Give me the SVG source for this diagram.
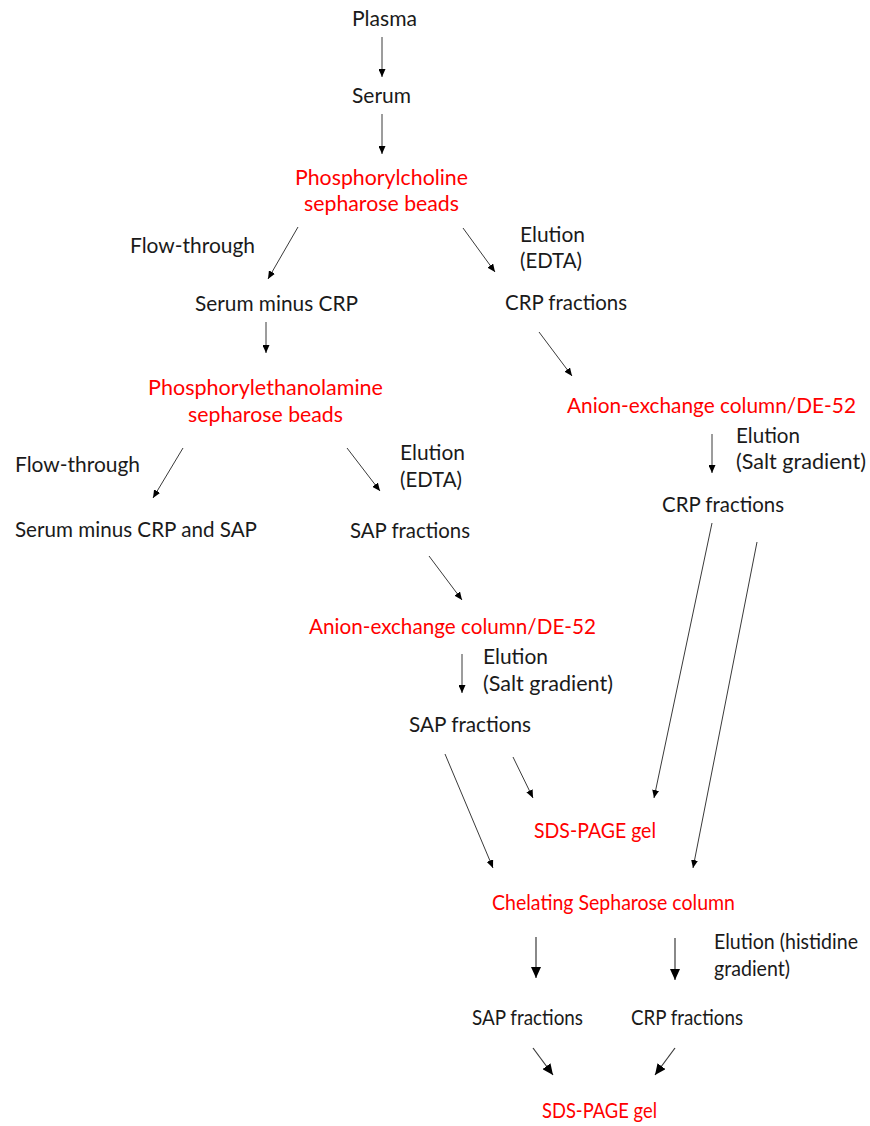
<svg xmlns="http://www.w3.org/2000/svg" width="870" height="1126" viewBox="0 0 870 1126">
<style>
text{font-family:Lato,"Open Sans","Liberation Sans",sans-serif;font-size:21px;fill:#1a1a1a}
.r{fill:#ff0000}
.c line{stroke:#3a3a3a;stroke-width:1}
.c line.s{marker-end:url(#ah)}
.c line.b{marker-end:url(#ahb);stroke-width:1.2}
</style>
<defs>
<marker id="ah" markerUnits="userSpaceOnUse" markerWidth="8" markerHeight="7" refX="8" refY="3.5" orient="auto"><path d="M0,0 L8,3.5 L0,7 z" fill="#000"/></marker>
<marker id="ahb" markerUnits="userSpaceOnUse" markerWidth="11" markerHeight="10" refX="11" refY="5" orient="auto"><path d="M0,0 L11,5 L0,10 z" fill="#000"/></marker>
</defs>
<rect width="870" height="1126" fill="#fff"/>
<g id="plasma"><text x="352" y="26" textLength="65" lengthAdjust="spacingAndGlyphs">Plasma</text></g>
<g id="serum"><text x="352" y="103" textLength="59" lengthAdjust="spacingAndGlyphs">Serum</text></g>
<g id="pc-beads"><text class="r" x="295" y="185" textLength="173" lengthAdjust="spacingAndGlyphs">Phosphorylcholine</text><text class="r" x="304" y="211" textLength="155" lengthAdjust="spacingAndGlyphs">sepharose beads</text></g>
<g id="flow1"><text x="130" y="253" textLength="125" lengthAdjust="spacingAndGlyphs">Flow-through</text></g>
<g id="elution1"><text x="520" y="242" textLength="65" lengthAdjust="spacingAndGlyphs">Elution</text><text x="520" y="268" textLength="62" lengthAdjust="spacingAndGlyphs">(EDTA)</text></g>
<g id="serum-minus-crp"><text x="195" y="311" textLength="163" lengthAdjust="spacingAndGlyphs">Serum minus CRP</text></g>
<g id="crp1"><text x="505" y="310" textLength="122" lengthAdjust="spacingAndGlyphs">CRP fractions</text></g>
<g id="pe-beads"><text class="r" x="148" y="395" textLength="235" lengthAdjust="spacingAndGlyphs">Phosphorylethanolamine</text><text class="r" x="188" y="422" textLength="155" lengthAdjust="spacingAndGlyphs">sepharose beads</text></g>
<g id="anion1"><text class="r" x="567" y="413" textLength="289" lengthAdjust="spacingAndGlyphs">Anion-exchange column/DE-52</text></g>
<g id="flow2"><text x="15" y="472" textLength="125" lengthAdjust="spacingAndGlyphs">Flow-through</text></g>
<g id="elution2"><text x="400" y="460" textLength="65" lengthAdjust="spacingAndGlyphs">Elution</text><text x="400" y="487" textLength="62" lengthAdjust="spacingAndGlyphs">(EDTA)</text></g>
<g id="elution3"><text x="736" y="443" textLength="64" lengthAdjust="spacingAndGlyphs">Elution</text><text x="736" y="469" textLength="130" lengthAdjust="spacingAndGlyphs">(Salt gradient)</text></g>
<g id="serum-minus-both"><text x="15" y="537" textLength="242" lengthAdjust="spacingAndGlyphs">Serum minus CRP and SAP</text></g>
<g id="sap1"><text x="350" y="538" textLength="120" lengthAdjust="spacingAndGlyphs">SAP fractions</text></g>
<g id="crp2"><text x="662" y="512" textLength="122" lengthAdjust="spacingAndGlyphs">CRP fractions</text></g>
<g id="anion2"><text class="r" x="309" y="634" textLength="287" lengthAdjust="spacingAndGlyphs">Anion-exchange column/DE-52</text></g>
<g id="elution4"><text x="483" y="664" textLength="65" lengthAdjust="spacingAndGlyphs">Elution</text><text x="483" y="691" textLength="130" lengthAdjust="spacingAndGlyphs">(Salt gradient)</text></g>
<g id="sap2"><text x="409" y="732" textLength="122" lengthAdjust="spacingAndGlyphs">SAP fractions</text></g>
<g id="sds1"><text class="r" x="534" y="838" textLength="122" lengthAdjust="spacingAndGlyphs">SDS-PAGE gel</text></g>
<g id="chelating"><text class="r" x="492" y="910" textLength="243" lengthAdjust="spacingAndGlyphs">Chelating Sepharose column</text></g>
<g id="elution5"><text x="714" y="949" textLength="144" lengthAdjust="spacingAndGlyphs">Elution (histidine</text><text x="714" y="976" textLength="76" lengthAdjust="spacingAndGlyphs">gradient)</text></g>
<g id="sap3"><text x="472" y="1025" textLength="111" lengthAdjust="spacingAndGlyphs">SAP fractions</text></g>
<g id="crp3"><text x="631" y="1025" textLength="112" lengthAdjust="spacingAndGlyphs">CRP fractions</text></g>
<g id="sds2"><text class="r" x="542" y="1118" textLength="115" lengthAdjust="spacingAndGlyphs">SDS-PAGE gel</text></g>
<g id="connectors" class="c">
<line class="s" x1="382" y1="37" x2="382" y2="77"/>
<line class="s" x1="382" y1="114" x2="382" y2="154"/>
<line class="s" x1="298" y1="227" x2="268" y2="279"/>
<line class="s" x1="463" y1="228" x2="495" y2="272"/>
<line class="s" x1="266" y1="322" x2="266" y2="353"/>
<line class="s" x1="539" y1="332" x2="572" y2="376"/>
<line class="s" x1="183" y1="448" x2="153" y2="498"/>
<line class="s" x1="347" y1="448" x2="380" y2="491"/>
<line class="s" x1="712" y1="434" x2="712" y2="473"/>
<line class="s" x1="429" y1="556" x2="462" y2="600"/>
<line class="s" x1="462" y1="654" x2="462" y2="693"/>
<line class="s" x1="712" y1="523" x2="654" y2="798"/>
<line class="s" x1="757" y1="542" x2="693" y2="868"/>
<line class="s" x1="445" y1="754" x2="493" y2="868"/>
<line class="s" x1="513" y1="757" x2="533" y2="798"/>
<line class="b" x1="536" y1="937" x2="536" y2="978"/>
<line class="b" x1="675" y1="938" x2="675" y2="980"/>
<line class="b" x1="533" y1="1048" x2="553" y2="1075"/>
<line class="b" x1="675" y1="1048" x2="655" y2="1075"/>
</g>
</svg>
